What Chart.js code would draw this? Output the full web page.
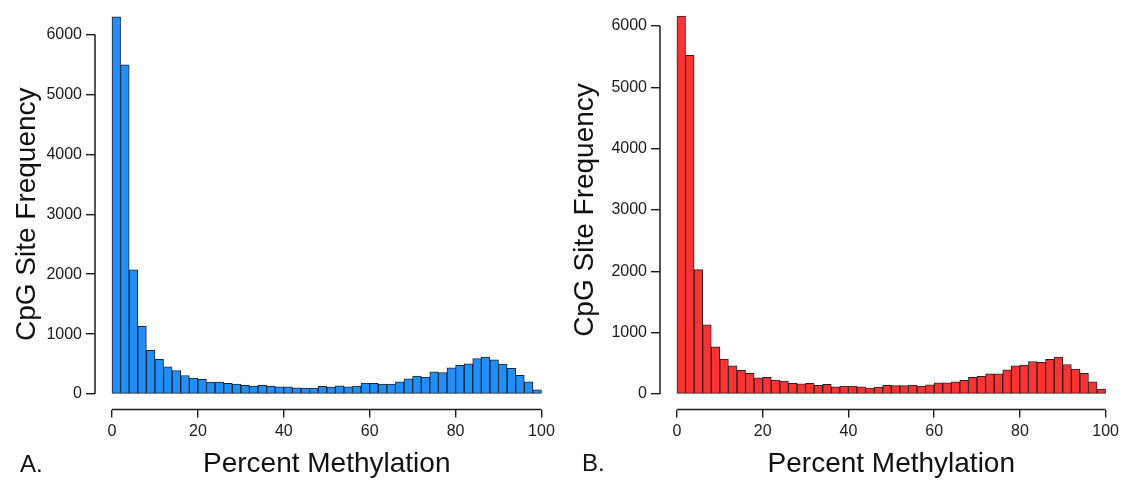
<!DOCTYPE html>
<html>
<head>
<meta charset="utf-8">
<script src="https://cdn.jsdelivr.net/npm/chart.js@4.4.1/dist/chart.umd.min.js"></script>
<style>
  html, body { margin: 0; padding: 0; background: #fff; }
  .wrap { position: relative; width: 1123px; height: 481px; }
  .panel { position: absolute; top: 0; height: 481px; }
  #panelA { left: 0; width: 560px; }
  #panelB { left: 560px; width: 563px; }
</style>
</head>
<body>
<div class="wrap">
  <div class="panel" id="panelA"><canvas id="chartA"></canvas></div>
  <div class="panel" id="panelB"><canvas id="chartB"></canvas></div>
</div>
<script>
// histogram bins (2% wide), centre of each bin
const binMids = [1, 3, 5, 7, 9, 11, 13, 15, 17, 19, 21, 23, 25, 27, 29, 31, 33, 35, 37, 39,
  41, 43, 45, 47, 49, 51, 53, 55, 57, 59, 61, 63, 65, 67, 69, 71, 73, 75, 77, 79,
  81, 83, 85, 87, 89, 91, 93, 95, 97, 99];

const xTicks = [0, 20, 40, 60, 80, 100];
const yTicks = [0, 1000, 2000, 3000, 4000, 5000, 6000];

// panel A (blue)
const freqA = [6296, 5493, 2071, 1130, 731, 581, 454, 393, 310, 266,
  244, 199, 199, 177, 166, 144, 133, 144, 127, 122,
  122, 105, 100, 100, 128, 116, 139, 122, 133, 183,
  177, 166, 166, 205, 255, 300, 283, 372, 360, 438,
  477, 505, 593, 616, 571, 499, 427, 311, 205, 72];

// panel B (red)
const freqB = [6163, 5523, 2027, 1127, 770, 569, 461, 385, 336, 266,
  271, 228, 211, 173, 168, 173, 141, 157, 119, 130,
  130, 116, 98, 114, 141, 136, 136, 146, 130, 152,
  184, 184, 200, 222, 271, 287, 331, 331, 396, 461,
  472, 531, 515, 564, 602, 482, 407, 336, 200, 81];

const xTitle = 'Percent Methylation';
const yTitle = 'CpG Site Frequency';
const FONT = '"Liberation Sans", Arial, Helvetica, sans-serif';
const INK = '#1c1c1c';

// draws R-style detached axis lines plus the titles and the panel letter
const rAxes = {
  id: 'rAxes',
  afterDraw(chart, args, opts) {
    const { ctx, chartArea, scales: { x, y } } = chart;
    ctx.save();
    ctx.strokeStyle = INK;
    ctx.lineWidth = 1.5;
    ctx.beginPath();
    ctx.moveTo(chartArea.left, y.getPixelForValue(yTicks[0]));
    ctx.lineTo(chartArea.left, y.getPixelForValue(yTicks[yTicks.length - 1]));
    ctx.moveTo(x.getPixelForValue(xTicks[0]), chartArea.bottom);
    ctx.lineTo(x.getPixelForValue(xTicks[xTicks.length - 1]), chartArea.bottom);
    ctx.stroke();

    ctx.fillStyle = '#111';
    ctx.textAlign = 'center';
    ctx.textBaseline = 'middle';
    ctx.font = '28px ' + FONT;
    const midX = (x.getPixelForValue(0) + x.getPixelForValue(100)) / 2;
    ctx.fillText(xTitle, midX, opts.xTitleY);

    const midY = (y.getPixelForValue(0) + y.getPixelForValue(6000)) / 2;
    ctx.save();
    ctx.translate(opts.yTitleX, midY);
    ctx.rotate(-Math.PI / 2);
    ctx.fillText(yTitle, 0, 0);
    ctx.restore();

    ctx.textAlign = 'left';
    ctx.font = '24px ' + FONT;
    ctx.fillText(opts.letter, opts.letterX, opts.letterY);
    ctx.restore();
  }
};

function makeHist(canvasId, values, color, o) {
  return new Chart(document.getElementById(canvasId), {
    type: 'bar',
    data: {
      datasets: [{
        data: binMids.map((m, i) => ({ x: m, y: values[i] })),
        backgroundColor: color,
        borderColor: '#222',
        borderWidth: 1,
        borderSkipped: false,
        barPercentage: 1,
        categoryPercentage: 1
      }]
    },
    options: {
      responsive: true,
      maintainAspectRatio: false,
      animation: false,
      layout: { padding: { top: 3.5, right: o.padRight, bottom: 0, left: 0 } },
      plugins: {
        legend: { display: false },
        tooltip: { enabled: false },
        rAxes: o
      },
      scales: {
        x: {
          type: 'linear',
          offset: false,
          min: -3.958,
          max: 103.5,
          afterBuildTicks: (s) => { s.ticks = xTicks.map(v => ({ value: v })); },
          afterFit: (s) => { s.height = 71.5; },
          border: { display: false },
          grid: { offset: false, drawOnChartArea: false, drawTicks: true, tickLength: 8, tickColor: INK, lineWidth: 1.4 },
          ticks: { color: INK, font: { family: FONT, size: 16 }, padding: 4, maxRotation: 0, autoSkip: false,
            callback: (v) => String(v) }
        },
        y: {
          min: o.yMin,
          max: o.yMax,
          afterBuildTicks: (s) => { s.ticks = yTicks.map(v => ({ value: v })); },
          afterFit: (s) => { s.width = o.yWidth; },
          border: { display: false },
          grid: { drawOnChartArea: false, drawTicks: true, tickLength: 9, tickColor: INK, lineWidth: 1.4 },
          ticks: { color: INK, font: { family: FONT, size: 16 }, padding: 4,
            callback: (v) => String(v) }
        }
      }
    },
    plugins: [rAxes]
  });
}

makeHist('chartA', freqA, '#1E8FFF', {
  yMin: -258, yMax: 6348, yWidth: 95, padRight: 3.5,
  xTitleY: 464, yTitleX: 27, letter: 'A.', letterX: 20, letterY: 465
});
makeHist('chartB', freqB, '#FF3232', {
  yMin: -252, yMax: 6202, yWidth: 100, padRight: 1.5,
  xTitleY: 464, yTitleX: 25, letter: 'B.', letterX: 22, letterY: 464
});
</script>
</body>
</html>
